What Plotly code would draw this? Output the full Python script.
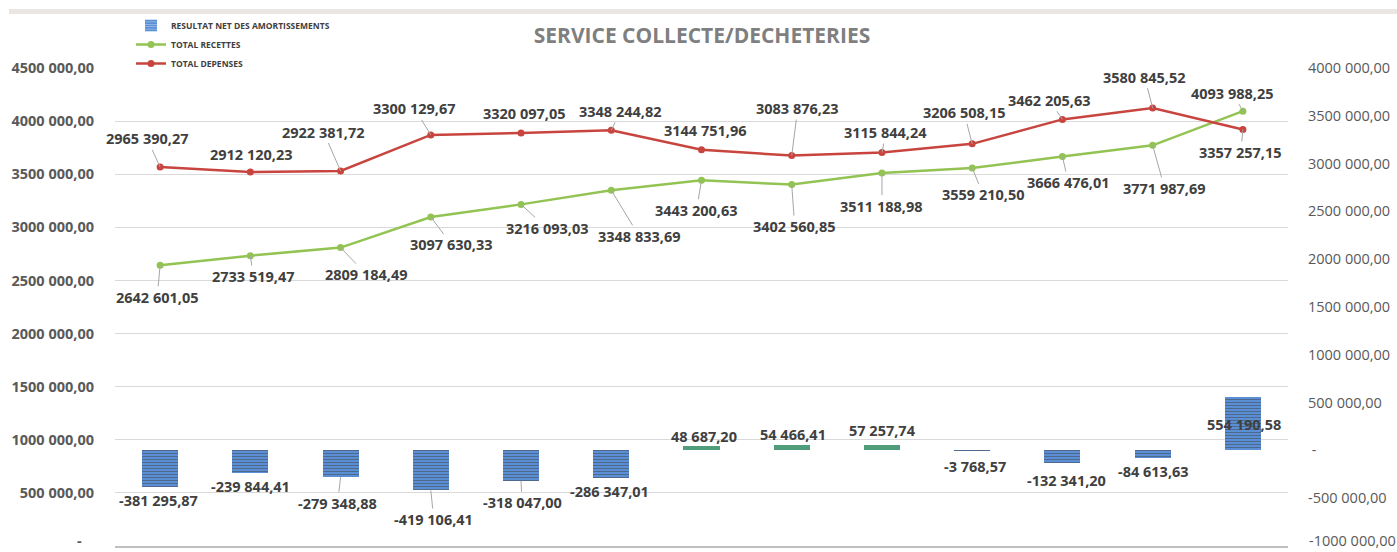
import plotly.graph_objects as go

# ---- data -------------------------------------------------------------
categories = ["1", "2", "3", "4", "5", "6", "7", "8", "9", "10", "11", "12", "13"]

resultat_net = [-381295.87, -239844.41, -279348.88, -419106.41, -318047.00,
                -286347.01, 48687.20, 54466.41, 57257.74, -3768.57,
                -132341.20, -84613.63, 554190.58]

total_recettes = [2642601.05, 2733519.47, 2809184.49, 3097630.33, 3216093.03,
                  3348833.69, 3443200.63, 3402560.85, 3511188.98, 3559210.50,
                  3666476.01, 3771987.69, 4093988.25]

total_depenses = [2965390.27, 2912120.23, 2922381.72, 3300129.67, 3320097.05,
                  3348244.82, 3144751.96, 3083876.23, 3115844.24, 3206508.15,
                  3462205.63, 3580845.52, 3357257.15]

left_ticks = [0, 500000, 1000000, 1500000, 2000000, 2500000, 3000000,
              3500000, 4000000, 4500000]
right_ticks = [-1000000, -500000, 0, 500000, 1000000, 1500000, 2000000,
               2500000, 3000000, 3500000, 4000000]

# ---- label placement (pixel offsets of each label from its point) -----
depenses_offsets = [(-13, -28), (1, -18), (-17, -39), (-16, -26), (3, -20),
                    (9, -19), (4, -19), (6, -47), (4, -20), (-8, -31),
                    (-13, -19), (-8, -31), (-2, 23)]
depenses_leaders = [1, 0, 1, 1, 0, 1, 0, 1, 1, 1, 1, 1, 1]

recettes_offsets = [(-3, 32), (3, 21), (26, 27), (21, 28), (26, 24),
                    (28, 46), (-5, 30), (3, 42), (0, 33), (11, 27),
                    (6, 26), (12, 43), (-10, -18)]
recettes_leaders = [1] * 13

resultat_offsets = [(-2, 14), (0, 13), (-3, 26), (3, 29), (1, 22), (-2, 14),
                    (2, -9), (1, -11), (1, -14), (3, 16), (4, 17), (1, 13),
                    (1, 27)]
resultat_leaders = [0, 0, 1, 1, 1, 0, 0, 0, 0, 0, 0, 0, 0]

# ---- styles -----------------------------------------------------------
FONT = "Open Sans"
BLUE = "#5b8fd5"
TEAL = "#4f9d7b"
GREEN = "#92c353"
RED = "#c8453f"
LABEL_COLOR = "#404040"
TICK_COLOR = "#595959"
LEADER_COLOR = "#a6a6a6"
GRID = "#d9d9d9"

W, H = 1397, 552
PLOT_L, PLOT_R, PLOT_T, PLOT_B = 115, 1288, 68, 546


def fr_number(v):
    """French accounting style: 2965 390,27"""
    neg = v < 0
    cents = int(round(abs(v) * 100))
    ip, dp = divmod(cents, 100)
    if ip >= 1000:
        s = f"{ip // 1000} {ip % 1000:03d}"
    else:
        s = str(ip)
    return ("-" if neg else "") + f"{s},{dp:02d}"


def tick_text(v, left):
    if v == 0:
        return "-\u00a0\u00a0\u00a0" if left else "\u00a0-"
    return fr_number(v)


bar_colors = [TEAL if 0 < v < 100000 else BLUE for v in resultat_net]
bar_patterns = ["" if 0 < v < 100000 else "-" for v in resultat_net]

fig = go.Figure()

fig.add_trace(go.Bar(
    x=categories, y=resultat_net, yaxis="y2",
    name="RESULTAT NET DES AMORTISSEMENTS",
    width=0.4,
    marker=dict(color=bar_colors, line=dict(width=0),
                pattern=dict(shape=bar_patterns, fgcolor="#e8eff9",
                             size=3, solidity=0.35, fillmode="overlay")),
))

fig.add_trace(go.Scatter(
    x=categories, y=total_recettes, yaxis="y",
    name="TOTAL RECETTES", mode="lines+markers",
    line=dict(color=GREEN, width=2.5),
    marker=dict(color=GREEN, size=7),
))

fig.add_trace(go.Scatter(
    x=categories, y=total_depenses, yaxis="y2",
    name="TOTAL DEPENSES", mode="lines+markers",
    line=dict(color=RED, width=2.5),
    marker=dict(color=RED, size=7),
))

annotations = []


def add_labels(values, yref, offsets, leaders):
    # category position given by index so numeric-looking names stay unambiguous
    for i, (v, (dx, dy), lead) in enumerate(zip(values, offsets, leaders)):
        annotations.append(dict(
            x=i, y=v, xref="x", yref=yref,
            text=fr_number(v), showarrow=True, ax=dx, ay=dy,
            arrowhead=0, arrowwidth=1,
            arrowcolor=LEADER_COLOR if lead else "rgba(0,0,0,0)",
            font=dict(family=FONT, size=14.5, color=LABEL_COLOR, weight="bold"),
        ))


add_labels(total_depenses, "y2", depenses_offsets, depenses_leaders)
add_labels(total_recettes, "y", recettes_offsets, recettes_leaders)
add_labels(resultat_net, "y2", resultat_offsets, resultat_leaders)

# the lowest tick of each axis sits on the bottom edge of the figure:
# draw those two labels as annotations nudged up so they stay inside it
left_bottom, right_bottom = min(left_ticks), min(right_ticks)
annotations.append(dict(
    x=0, xref="paper", xanchor="right", xshift=-20,
    y=left_bottom, yref="y", yanchor="middle", yshift=6,
    text=tick_text(left_bottom, True), showarrow=False,
    font=dict(family=FONT, size=14.5, color=TICK_COLOR, weight="bold")))
annotations.append(dict(
    x=1, xref="paper", xanchor="left", xshift=19,
    y=right_bottom, yref="y2", yanchor="middle", yshift=6,
    text=tick_text(right_bottom, False), showarrow=False,
    font=dict(family=FONT, size=14.5, color=TICK_COLOR)))

left_vals = [t for t in left_ticks if t != left_bottom]
right_vals = [t for t in right_ticks if t != right_bottom]

pw = PLOT_R - PLOT_L
ph = PLOT_B - PLOT_T


def px_x(px):
    return (px - PLOT_L) / pw


def px_y(py):
    return 1 + (PLOT_T - py) / ph


shapes = [dict(type="rect", xref="paper", yref="paper",
               x0=px_x(9), x1=px_x(W), y0=px_y(14), y1=px_y(9),
               fillcolor="#ebe6e1", line=dict(width=0), layer="below")]

fig.update_layout(
    width=W, height=H,
    margin=dict(l=PLOT_L, r=W - PLOT_R, t=PLOT_T, b=H - PLOT_B, autoexpand=False),
    paper_bgcolor="white", plot_bgcolor="white",
    font=dict(family=FONT, color=LABEL_COLOR),
    title=dict(text="SERVICE COLLECTE/DECHETERIES",
               x=702 / W, xref="container", xanchor="center",
               y=1 - 36 / H, yref="container", yanchor="middle",
               font=dict(family=FONT, size=21, color="#7f7f7f", weight="bold")),
    showlegend=True,
    legend=dict(x=px_x(131), y=px_y(11), xanchor="left", yanchor="top",
                bgcolor="rgba(0,0,0,0)", itemwidth=30, traceorder="normal",
                font=dict(family=FONT, size=8.5, color=LABEL_COLOR, weight="bold")),
    xaxis=dict(type="category", range=[-0.5, 12.5], showticklabels=False,
               showgrid=False, zeroline=False, showline=True,
               linecolor="#bfbfbf", linewidth=2, ticks="", automargin=False),
    yaxis=dict(range=[0, 4500000], tickvals=left_vals,
               ticktext=[tick_text(t, True) for t in left_vals],
               showgrid=True, gridcolor=GRID, gridwidth=1, zeroline=False,
               ticks="", ticklabelstandoff=20, automargin=False,
               tickfont=dict(family=FONT, size=14.5, color=TICK_COLOR, weight="bold")),
    yaxis2=dict(range=[-1000000, 4000000], tickvals=right_vals,
                ticktext=[tick_text(t, False) for t in right_vals],
                overlaying="y", side="right", showgrid=False, zeroline=False,
                ticks="", ticklabelstandoff=19, automargin=False,
                tickfont=dict(family=FONT, size=14.5, color=TICK_COLOR)),
    annotations=annotations,
    shapes=shapes,
    bargap=0,
)

fig.write_html("out.html")
